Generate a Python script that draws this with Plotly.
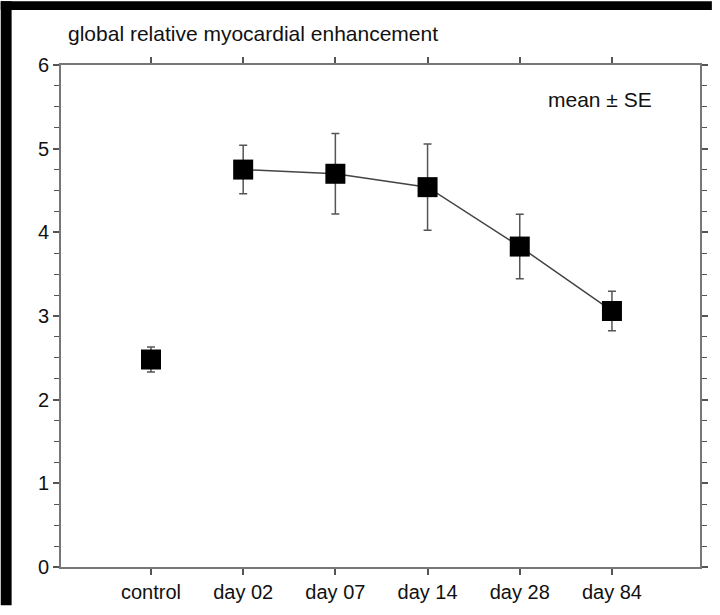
import plotly.graph_objects as go

categories = ["control", "day 02", "day 07", "day 14", "day 28", "day 84"]
means = [2.48, 4.75, 4.70, 4.54, 3.83, 3.06]
se = [0.15, 0.29, 0.48, 0.515, 0.385, 0.235]
yticks = [0, 1, 2, 3, 4, 5, 6]

W, H = 720, 615
L, R, T, B = 61, 12, 65, 39
PW, PH = W - L - R, H - T - B

def px_x(px):
    return (px - L) / PW

def px_y(py):
    return (H - B - py) / PH

xs = list(range(len(categories)))
FONT = "Liberation Sans, Arial, sans-serif"

fig = go.Figure()
# time course (connected)
fig.add_trace(go.Scatter(
    x=xs[1:], y=means[1:],
    mode="lines+markers",
    line=dict(color="#444444", width=1.5),
    marker=dict(symbol="square", size=20, color="black"),
    error_y=dict(type="data", array=se[1:], color="#555555", thickness=1.5, width=4),
    showlegend=False,
))
# control (isolated)
fig.add_trace(go.Scatter(
    x=xs[:1], y=means[:1],
    mode="markers",
    marker=dict(symbol="square", size=20, color="black"),
    error_y=dict(type="data", array=se[:1], color="#555555", thickness=1.5, width=4),
    showlegend=False,
))

axis_common = dict(
    showline=True, linecolor="#777777", linewidth=2,
    mirror="allticks", ticks="outside", tickcolor="#555555",
    showgrid=False, zeroline=False,
    tickfont=dict(family=FONT, size=20, color="#111111"),
)

fig.update_xaxes(
    range=[-0.976, 5.955],
    tickvals=xs, ticktext=categories,
    ticklen=6, tickwidth=1.5,
    **axis_common,
)
fig.update_yaxes(
    range=[0, 6],
    tickvals=yticks, ticktext=[str(v) for v in yticks],
    ticklen=6, tickwidth=1.5,
    minor=dict(dtick=0.25, ticks="outside", ticklen=5, tickcolor="#555555", tickwidth=1.2),
    **axis_common,
)

shapes = [
    # left black band
    dict(type="rect", xref="paper", yref="paper",
         x0=px_x(0), x1=px_x(11), y0=px_y(H), y1=px_y(0),
         fillcolor="black", line=dict(width=0), layer="above"),
    # top black band
    dict(type="rect", xref="paper", yref="paper",
         x0=px_x(0), x1=px_x(W), y0=px_y(9), y1=px_y(0),
         fillcolor="black", line=dict(width=0), layer="above"),
]

annotations = [
    dict(text="global relative myocardial enhancement", xref="paper", yref="paper",
         x=px_x(66), y=px_y(33), xanchor="left", yanchor="middle", showarrow=False,
         font=dict(family=FONT, size=21, color="#111111")),
    dict(text="mean ± SE", xref="paper", yref="paper",
         x=px_x(661), y=px_y(100), xanchor="right", yanchor="middle", showarrow=False,
         font=dict(family=FONT, size=21, color="#111111")),
]

fig.update_layout(
    width=W, height=H,
    margin=dict(l=L, r=R, t=T, b=B),
    paper_bgcolor="white", plot_bgcolor="white",
    shapes=shapes, annotations=annotations,
    font=dict(family=FONT),
)

fig.write_html(
    "out.html",
    config={"displayModeBar": False},
    post_script="document.body.style.margin='0';document.body.style.overflow='hidden';",
)
